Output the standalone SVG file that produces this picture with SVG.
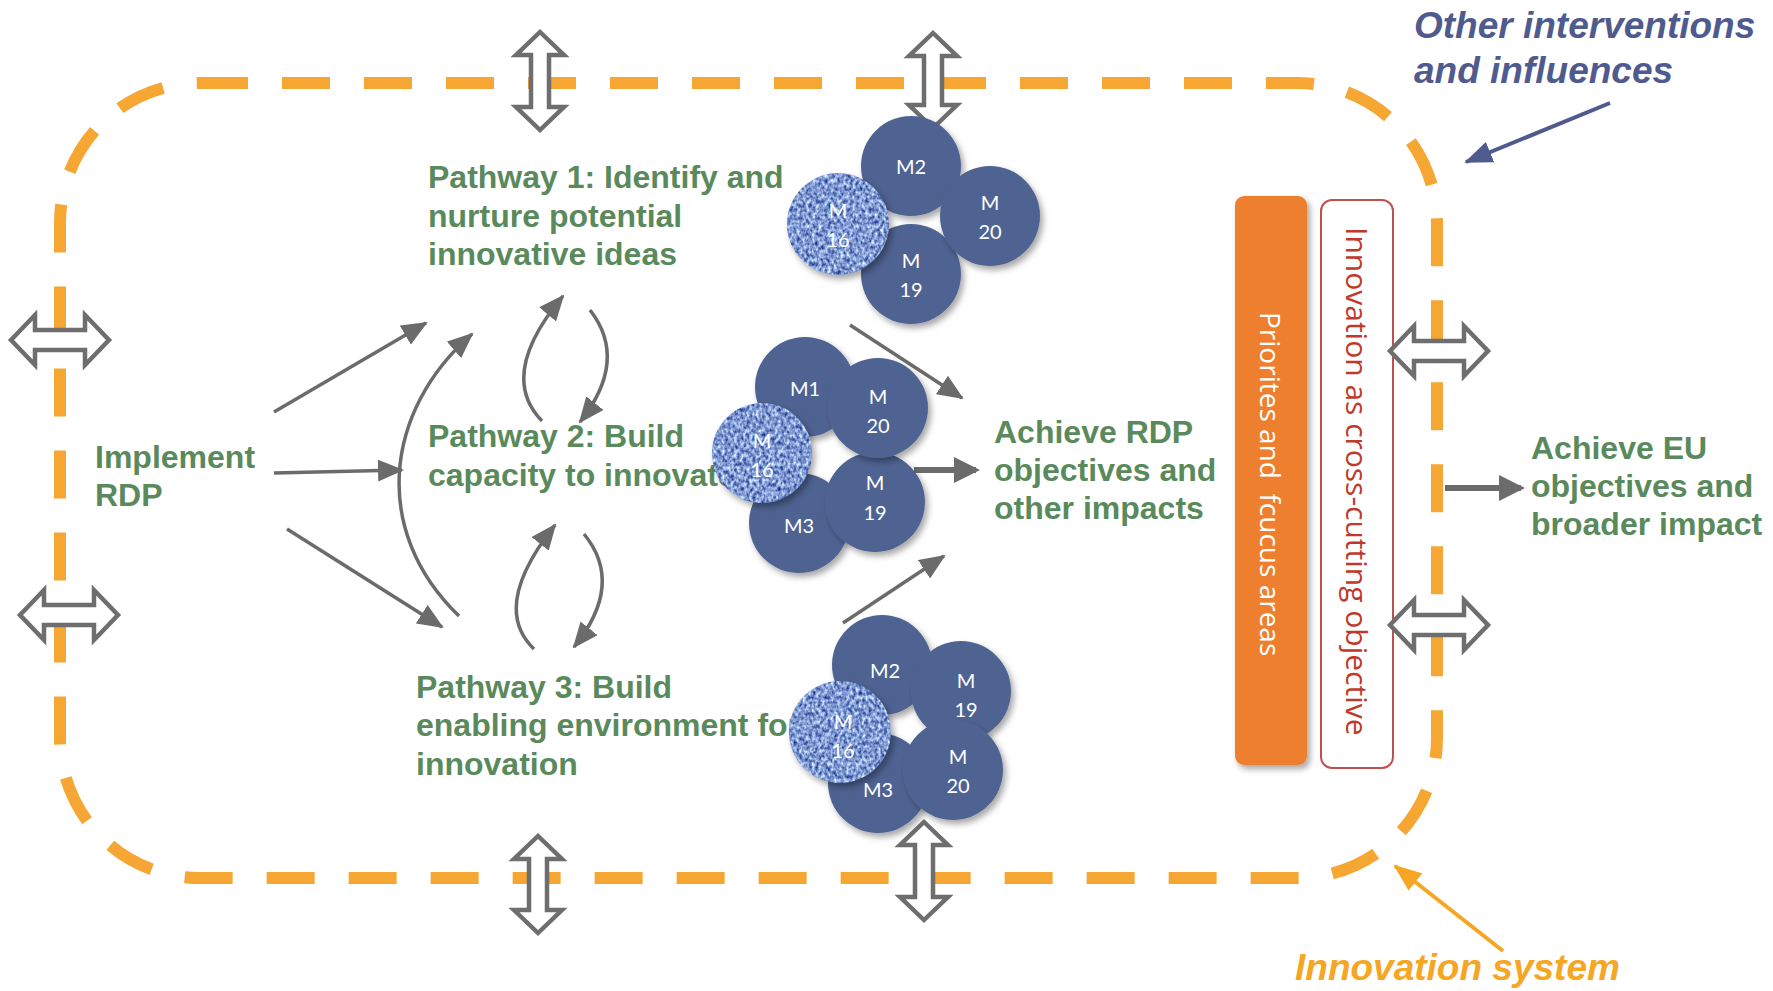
<svg xmlns="http://www.w3.org/2000/svg" width="1773" height="991" viewBox="0 0 1773 991">
<style>
.green{font-family:"Liberation Sans",Arial,sans-serif;font-weight:bold;font-size:32px;fill:#5A8A5C}
.circ{fill:#506392}
.ct{font-family:Lato,"Open Sans",sans-serif;font-size:20px;fill:#ffffff;text-anchor:middle;dominant-baseline:central}
.conn{stroke:#6B6B6B;stroke-width:3.5;fill:none}
.thick{stroke:#6B6B6B;stroke-width:6;fill:none}
.dbl{fill:#ffffff;stroke:#6E6E6E;stroke-width:4.5;stroke-linejoin:miter}
.vt{font-family:"Open Sans","DejaVu Sans",sans-serif;font-size:30px;dominant-baseline:central}
.ital{font-family:"Liberation Sans",Arial,sans-serif;font-weight:bold;font-style:italic;font-size:37px}
</style>
<defs>
<marker id="ah" markerUnits="userSpaceOnUse" markerWidth="26" markerHeight="22" refX="24" refY="11" orient="auto" viewBox="0 0 26 22">
<path d="M0,0 L26,11 L0,22 z" fill="#6B6B6B"/>
</marker>
<marker id="ahT" markerUnits="userSpaceOnUse" markerWidth="26" markerHeight="26" refX="22" refY="13" orient="auto" viewBox="0 0 26 26">
<path d="M0,0 L26,13 L0,26 z" fill="#6B6B6B"/>
</marker>
<marker id="ahB" markerUnits="userSpaceOnUse" markerWidth="28" markerHeight="22" refX="26" refY="11" orient="auto" viewBox="0 0 28 22">
<path d="M0,0 L28,11 L0,22 z" fill="#4F5B8E"/>
</marker>
<marker id="ahO" markerUnits="userSpaceOnUse" markerWidth="28" markerHeight="22" refX="26" refY="11" orient="auto" viewBox="0 0 28 22">
<path d="M0,0 L28,11 L0,22 z" fill="#F5A623"/>
</marker>
<filter id="sh" x="-20%" y="-20%" width="150%" height="150%">
<feDropShadow dx="3" dy="4" stdDeviation="3" flood-color="#000" flood-opacity="0.35"/>
</filter>
<filter id="fab" x="-20%" y="-20%" width="150%" height="150%" color-interpolation-filters="sRGB">
<feTurbulence type="fractalNoise" baseFrequency="0.32 0.24" numOctaves="2" seed="7" result="n"/>
<feColorMatrix in="n" type="matrix" values="1.2 0 0 0 -0.1  1.2 0 0 0 0.0  0.8 0 0 0 0.42  0 0 0 0 1" result="c"/>
<feComposite in="c" in2="SourceGraphic" operator="in" result="t"/>
<feDropShadow in="t" dx="3" dy="4" stdDeviation="3" flood-color="#000" flood-opacity="0.35"/>
</filter>
</defs>
<rect width="1773" height="991" fill="#ffffff"/>

<g id="innovation-system">
<rect x="60" y="83" width="1377" height="795" rx="140" ry="140" fill="none" stroke="#F6A733" stroke-width="12" stroke-dasharray="48 34"/>
</g>

<g id="priorities-bar">
<rect x="1235" y="196" width="72" height="569" rx="9" fill="#EE7F2F" filter="url(#sh)"/>
<text class="vt" fill="#ffffff" font-size="28" style="white-space:pre;font-size:28px" transform="translate(1271,312) rotate(90)">Priorites and  fcucus areas</text>
</g>

<g id="crosscutting-box">
<rect x="1321" y="200" width="72" height="568" rx="11" fill="#ffffff" stroke="#C0504D" stroke-width="2"/>
<text class="vt" fill="#C0392B" transform="translate(1357,227) rotate(90)">Innovation as cross-cutting objective</text>
</g>

<g id="implement-rdp">
<text class="green" x="95" y="468">Implement</text>
<text class="green" x="95" y="506">RDP</text>
</g>

<g id="pathway1">
<text class="green" x="428" y="188">Pathway 1: Identify and</text>
<text class="green" x="428" y="227">nurture potential</text>
<text class="green" x="428" y="265">innovative ideas</text>
</g>

<g id="pathway2">
<text class="green" x="428" y="447">Pathway 2: Build</text>
<text class="green" x="428" y="486">capacity to innovate</text>
</g>

<g id="pathway3">
<text class="green" x="416" y="698">Pathway 3: Build</text>
<text class="green" x="416" y="736">enabling environment for</text>
<text class="green" x="416" y="775">innovation</text>
</g>

<g id="achieve-rdp">
<text class="green" x="994" y="443">Achieve RDP</text>
<text class="green" x="994" y="481">objectives and</text>
<text class="green" x="994" y="519">other impacts</text>
</g>

<g id="achieve-eu">
<text class="green" x="1531" y="459">Achieve EU</text>
<text class="green" x="1531" y="497">objectives and</text>
<text class="green" x="1531" y="535">broader impact</text>
</g>

<g id="other-interventions">
<text class="ital" x="1414" y="38" fill="#4F5B8E">Other interventions</text>
<text class="ital" x="1414" y="83" fill="#4F5B8E">and influences</text>
</g>

<g id="innovation-system-label">
<text class="ital" x="1295" y="980" fill="#F5A623">Innovation system</text>
</g>

<g id="connectors">
<line class="conn" x1="274" y1="412" x2="426" y2="323" marker-end="url(#ah)"/>
<line class="conn" x1="274" y1="473" x2="402" y2="470" marker-end="url(#ah)"/>
<line class="conn" x1="287" y1="529" x2="442" y2="627" marker-end="url(#ah)"/>
<path class="conn" d="M459,616 C370,530 385,410 472,334" marker-end="url(#ah)"/>
<path class="conn" d="M542,421 Q497,375 563,296" marker-end="url(#ah)"/>
<path class="conn" d="M590,310 Q629,360 580,422" marker-end="url(#ah)"/>
<path class="conn" d="M534,649 Q490,607 555,525" marker-end="url(#ah)"/>
<path class="conn" d="M584,534 Q625,584 574,647" marker-end="url(#ah)"/>
<line class="conn" x1="850" y1="325" x2="962" y2="398" marker-end="url(#ah)"/>
<line class="conn" x1="843" y1="623" x2="944" y2="556" marker-end="url(#ah)"/>
<line class="thick" x1="914" y1="470" x2="976" y2="470" marker-end="url(#ahT)"/>
<line class="thick" x1="1445" y1="488" x2="1521" y2="488" marker-end="url(#ahT)"/>
<line x1="1610" y1="103" x2="1466" y2="162" stroke="#4F5B8E" stroke-width="4" marker-end="url(#ahB)"/>
<line x1="1503" y1="951" x2="1395" y2="866" stroke="#F5A623" stroke-width="4" marker-end="url(#ahO)"/>
</g>

<g id="boundary-arrows">
<polygon class="dbl" points="540,32 564,55 549,55 549,107 564,107 540,130 516,107 531,107 531,55 516,55"/>
<polygon class="dbl" points="933,33 957,56 942,56 942,105 957,105 933,128 909,105 924,105 924,56 909,56"/>
<polygon class="dbl" points="538,836 562,859 547,859 547,910 562,910 538,933 514,910 529,910 529,859 514,859"/>
<polygon class="dbl" points="924,822 948,845 933,845 933,897 948,897 924,920 900,897 915,897 915,845 900,845"/>
<polygon class="dbl" points="11,340 35,315 35,330 85,330 85,315 109,340 85,365 85,350 35,350 35,365"/>
<polygon class="dbl" points="20,615 44,590 44,605 94,605 94,590 118,615 94,640 94,625 44,625 44,640"/>
<polygon class="dbl" points="1390,351 1414,326 1414,341 1464,341 1464,326 1488,351 1464,376 1464,361 1414,361 1414,376"/>
<polygon class="dbl" points="1390,625 1414,600 1414,615 1464,615 1464,600 1488,625 1464,650 1464,635 1414,635 1414,650"/>
</g>

<g id="cluster1">
<g id="c1-m2"><circle class="circ" cx="911" cy="166" r="50" filter="url(#sh)"/><text class="ct" x="911" y="166">M2</text></g>
<g id="c1-m19"><circle class="circ" cx="911" cy="274" r="50" filter="url(#sh)"/><text class="ct" x="911" y="260">M</text><text class="ct" x="911" y="289">19</text></g>
<g id="c1-m20"><circle class="circ" cx="990" cy="216" r="50" filter="url(#sh)"/><text class="ct" x="990" y="202">M</text><text class="ct" x="990" y="231">20</text></g>
<g id="c1-m16"><circle fill="#7090C8" cx="838" cy="224" r="51" filter="url(#fab)"/><text class="ct" x="838" y="210">M</text><text class="ct" x="838" y="239">16</text></g>
</g>

<g id="cluster2">
<g id="c2-m1"><circle class="circ" cx="805" cy="387" r="50" filter="url(#sh)"/><text class="ct" x="805" y="388">M1</text></g>
<g id="c2-m3"><circle class="circ" cx="799" cy="523" r="50" filter="url(#sh)"/><text class="ct" x="799" y="525">M3</text></g>
<g id="c2-m19"><circle class="circ" cx="875" cy="502" r="50" filter="url(#sh)"/><text class="ct" x="875" y="482">M</text><text class="ct" x="875" y="512">19</text></g>
<g id="c2-m20"><circle class="circ" cx="878" cy="408" r="50" filter="url(#sh)"/><text class="ct" x="878" y="396">M</text><text class="ct" x="878" y="425">20</text></g>
<g id="c2-m16"><circle fill="#7090C8" cx="762" cy="453" r="50" filter="url(#fab)"/><text class="ct" x="762" y="440">M</text><text class="ct" x="762" y="469">16</text></g>
</g>

<g id="cluster3">
<g id="c3-m2"><circle class="circ" cx="882" cy="665" r="50" filter="url(#sh)"/><text class="ct" x="885" y="670">M2</text></g>
<g id="c3-m3"><circle class="circ" cx="878" cy="783" r="50" filter="url(#sh)"/><text class="ct" x="878" y="789">M3</text></g>
<g id="c3-m19"><circle class="circ" cx="961" cy="691" r="50" filter="url(#sh)"/><text class="ct" x="966" y="680">M</text><text class="ct" x="966" y="709">19</text></g>
<g id="c3-m20"><circle class="circ" cx="953" cy="770" r="50" filter="url(#sh)"/><text class="ct" x="958" y="756">M</text><text class="ct" x="958" y="785">20</text></g>
<g id="c3-m16"><circle fill="#7090C8" cx="840" cy="732" r="51" filter="url(#fab)"/><text class="ct" x="843" y="721">M</text><text class="ct" x="843" y="750">16</text></g>
</g>
</svg>
